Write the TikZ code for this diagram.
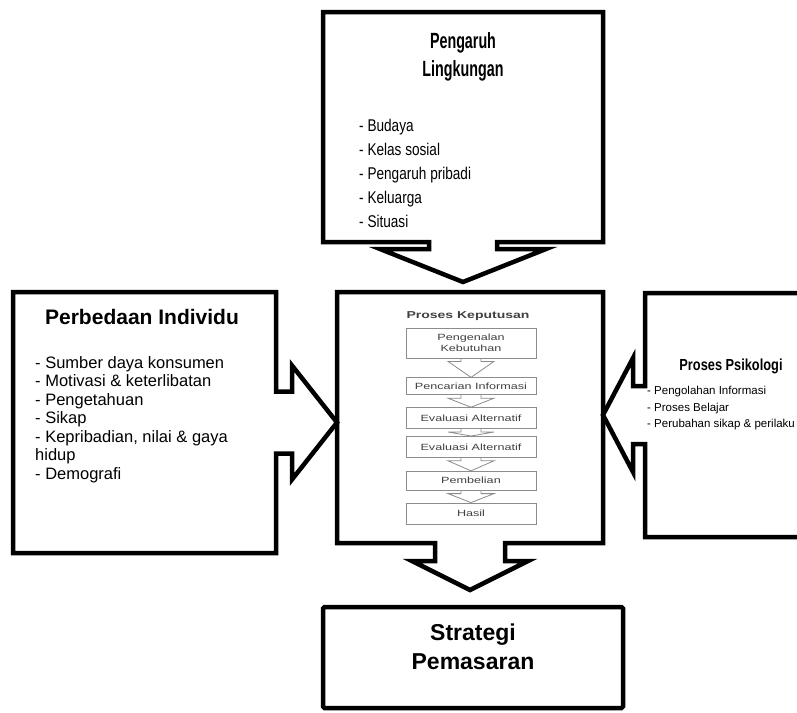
\documentclass[tikz,border=0pt]{standalone}
\usepackage{fontspec}
\setmainfont{Liberation Sans}
\newfontfamily\condfont{Liberation Sans}[FakeStretch=0.65]
\newfontfamily\narrowfont{Liberation Sans}[FakeStretch=0.8]
\newfontfamily\widefont{Liberation Sans}[FakeStretch=1.4]
\usepackage{tikz}
\usetikzlibrary{calc,positioning}

\tikzset{
  frame/.style={inner sep=0pt, outer sep=0pt},
  callout/.style={draw=black, fill=white, line width=4.5pt, line join=miter},
  listtext/.style={inner sep=0pt, align=left, anchor=north west},
  stagebox/.style={draw=black!45, line width=0.8pt, minimum width=130pt, inner sep=0pt,
    align=center, text=black!75, font=\widefont\fontsize{9}{10.5}\selectfont},
  stagearrow/.style={draw=black!45, line width=0.8pt, line join=miter}
}

\begin{document}
\begin{tikzpicture}[x=1pt,y=-1pt]
\useasboundingbox (0,0) rectangle (797,712);
\clip (0,0) rectangle (797,712);
% frames
\node[frame, minimum width=280pt, minimum height=230pt] (pl) at (463,127) {};
\node[frame, minimum width=266pt, minimum height=251pt] (pk) at (470,417.5) {};
\node[frame, minimum width=263pt, minimum height=261pt] (pi) at (144.5,422.5) {};
\node[frame, minimum width=167pt, minimum height=244pt] (pp) at (728.5,415) {};
\node[frame, draw, line width=4.5pt, rounded corners=1.5pt,
  minimum width=300pt, minimum height=101pt] (sp) at (473,657.5) {};

% callouts
\draw[callout] (pk.south west) -- (pk.north west) -- (pk.north east) -- (pk.south east)
  -- ($(pk.south)+(35,0)$) -- ++(0,18) -- ++(23,0) -- ($(pk.south |- sp.north)+(0,-17)$)
  -- ($(pk.south)+(-58,18)$) -- ++(23,0) -- ++(0,-18) -- cycle;
\draw[callout] (pl.south west) -- (pl.north west) -- (pl.north east) -- (pl.south east)
  -- ($(pl.south)+(34,0)$) -- ++(0,7) -- ++(49,0) -- ($(pl.south |- pk.north)+(0,-10)$)
  -- ($(pl.south)+(-83,7)$) -- ++(49,0) -- ++(0,-7) -- cycle;
\draw[callout] (pi.north east) -- (pi.north west) -- (pi.south west) -- (pi.south east)
  -- ($(pi.east)+(0,31)$) -- ++(16,0) -- ++(0,26) -- (pk.west |- pi.east)
  -- ($(pi.east)+(16,-57)$) -- ++(0,26) -- ++(-16,0) -- cycle;
\draw[callout] (pp.north west) -- (pp.north east) -- (pp.south east) -- (pp.south west)
  -- ($(pp.west)+(0,29)$) -- ++(-12,0) -- ++(0,28) -- (pk.east |- pp.west)
  -- ($(pp.west)+(-12,-57)$) -- ++(0,28) -- ++(12,0) -- cycle;

% top
\node[font=\condfont\bfseries\fontsize{22}{28}\selectfont, align=center, anchor=north,
  inner sep=0pt] (plt) at (463,32) {Pengaruh\\Lingkungan};
\node[listtext, font=\narrowfont\fontsize{17}{24}\selectfont] (pll) at (359,119)
  {- Budaya\\- Kelas sosial\\- Pengaruh pribadi\\- Keluarga\\- Situasi};

% left
\node[font=\bfseries\fontsize{21}{24}\selectfont, inner sep=0pt] (pit) at (142,317) {Perbedaan Individu};
\node[listtext, font=\fontsize{16.5}{18.5}\selectfont] (pil) at (35,356)
  {- Sumber daya konsumen\\- Motivasi \& keterlibatan\\- Pengetahuan\\- Sikap\\
   - Kepribadian, nilai \& gaya\\hidup\\- Demografi};

% right
\node[font=\narrowfont\bfseries\fontsize{16}{18}\selectfont, inner sep=0pt] (ppt) at (731,366) {Proses Psikologi};
\node[listtext, font=\fontsize{11.5}{16.5}\selectfont] (ppl) at (647,386)
  {- Pengolahan Informasi\\- Proses Belajar\\- Perubahan sikap \& perilaku};

% centre
\node[font=\widefont\bfseries\fontsize{10}{12}\selectfont, text=black!75, inner sep=0pt] (pkt) at (468,316) {Proses Keputusan};
\node[stagebox, minimum height=30pt] (k1) at (471,343) {Pengenalan\\Kebutuhan};
\node[stagebox, minimum height=17pt, below=19pt of k1] (k2) {Pencarian Informasi};
\node[stagebox, minimum height=21pt, below=12pt of k2] (k3) {Evaluasi Alternatif};
\node[stagebox, minimum height=21pt, below=7pt of k3] (k4) {Evaluasi Alternatif};
\node[stagebox, minimum height=19pt, below=13pt of k4] (k5) {Pembelian};
\node[stagebox, minimum height=21pt, below=12pt of k5] (k6) {Hasil};
\foreach \a/\b in {k1/k2,k2/k3,k3/k4,k4/k5,k5/k6}
  \draw[stagearrow] ($(\a.south)+(-10,0)$) -- ++(0,3) -- ++(-13,0) -- (\b.north)
    -- ($(\a.south)+(23,3)$) -- ++(-13,0) -- ++(0,-3);

% bottom
\node[font=\bfseries\fontsize{23}{29}\selectfont, align=center, anchor=north,
  inner sep=0pt] (spt) at (473,624) {Strategi\\Pemasaran};
\end{tikzpicture}
\end{document}
